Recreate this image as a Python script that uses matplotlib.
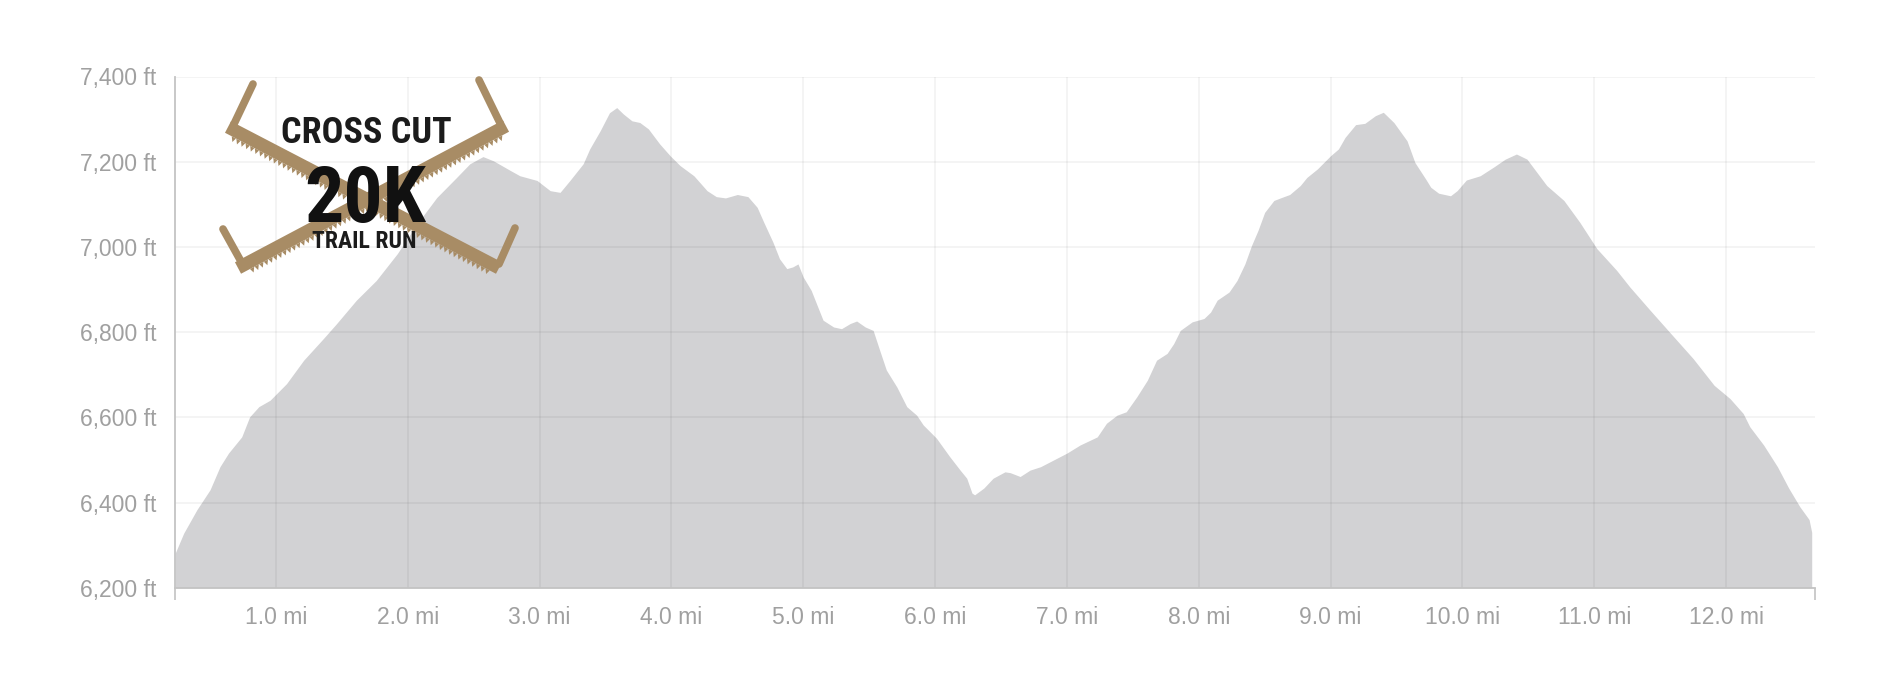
import matplotlib
matplotlib.use('Agg')
import matplotlib.pyplot as plt
import numpy as np
from matplotlib.patches import Polygon
from matplotlib.lines import Line2D

# Elevation profile (distance in miles, elevation in feet)
miles = [0.234, 0.30, 0.40, 0.50, 0.575, 0.64, 0.74, 0.80, 0.87, 0.955,
         1.08, 1.21, 1.36, 1.46, 1.61, 1.76, 1.92, 2.07, 2.22, 2.37,
         2.47, 2.57, 2.65, 2.78, 2.85, 2.98, 3.08, 3.155, 3.23, 3.33,
         3.38, 3.46, 3.53, 3.585, 3.635, 3.70, 3.76, 3.825, 3.91, 3.99,
         4.065, 4.17, 4.27, 4.34, 4.41, 4.50, 4.58, 4.65, 4.70, 4.77,
         4.82, 4.875, 4.92, 4.96, 5.00, 5.06, 5.11, 5.15, 5.23, 5.29,
         5.355, 5.405, 5.47, 5.53, 5.58, 5.63, 5.71, 5.785, 5.86, 5.91,
         6.01, 6.11, 6.19, 6.24, 6.28, 6.30, 6.37, 6.44, 6.53, 6.57,
         6.645, 6.72, 6.80, 6.90, 7.00, 7.10, 7.23, 7.30, 7.38, 7.45,
         7.53, 7.61, 7.68, 7.76, 7.81, 7.86, 7.95, 8.04, 8.09, 8.14,
         8.23, 8.29, 8.35, 8.40, 8.45, 8.50, 8.57, 8.62, 8.69, 8.77,
         8.82, 8.90, 9.00, 9.06, 9.11, 9.19, 9.26, 9.34, 9.40, 9.48,
         9.58, 9.64, 9.72, 9.76, 9.82, 9.91, 9.96, 10.03, 10.135, 10.24,
         10.325, 10.41, 10.49, 10.64, 10.77, 10.89, 11.02, 11.17, 11.27, 11.425,
         11.58, 11.75, 11.91, 12.03, 12.13, 12.18, 12.285, 12.39, 12.475, 12.56,
         12.63, 12.65]
elevation = [6280, 6328, 6383, 6430, 6484, 6516, 6554, 6601, 6625, 6640,
             6679, 6734, 6785, 6820, 6875, 6921, 6984, 7054, 7116, 7163,
             7195, 7212, 7202, 7179, 7167, 7156, 7132, 7128, 7156, 7195,
             7230, 7273, 7315, 7327, 7312, 7296, 7292, 7277, 7242, 7214,
             7191, 7167, 7132, 7118, 7115, 7123, 7118, 7093, 7058, 7011,
             6972, 6949, 6953, 6960, 6929, 6898, 6859, 6828, 6812, 6808,
             6820, 6826, 6812, 6804, 6757, 6711, 6671, 6625, 6605, 6582,
             6551, 6508, 6476, 6457, 6422, 6418, 6434, 6457, 6472, 6470,
             6461, 6476, 6484, 6500, 6516, 6535, 6554, 6586, 6605, 6613,
             6648, 6687, 6734, 6750, 6773, 6804, 6824, 6832, 6847, 6875,
             6894, 6921, 6960, 7003, 7039, 7081, 7109, 7115, 7123, 7144,
             7163, 7183, 7214, 7230, 7257, 7287, 7290, 7308, 7316, 7292,
             7249, 7198, 7160, 7140, 7126, 7120, 7132, 7157, 7167, 7188,
             7206, 7218, 7206, 7144, 7109, 7058, 6996, 6945, 6906, 6851,
             6797, 6738, 6675, 6644, 6609, 6578, 6535, 6484, 6434, 6390,
             6360, 6330]

x_ticks = [1, 2, 3, 4, 5, 6, 7, 8, 9, 10, 11, 12]
y_ticks = [6200, 6400, 6600, 6800, 7000, 7200, 7400]
x_range = (0.234, 12.675)

W, H = 1888, 676
fig = plt.figure(figsize=(W / 100, H / 100), dpi=100)
ax = fig.add_axes([175 / W, 1 - 587.7 / H, 1640 / W, 511.2 / H])

ax.fill_between(miles, elevation, y_ticks[0], color='#d2d2d4', linewidth=0, zorder=1)
ax.set_xlim(*x_range)
ax.set_ylim(y_ticks[0], y_ticks[-1])

ax.set_xticks(x_ticks)
ax.set_xticklabels(['{:.1f} mi'.format(m) for m in x_ticks])
ax.set_yticks(y_ticks)
ax.set_yticklabels(['{:,} ft'.format(v) for v in y_ticks])
# only the ends of the axes get a tick mark
ax.set_xticks(list(x_range), minor=True)
ax.set_yticks([y_ticks[0], y_ticks[-1]], minor=True)

for lab in ax.get_xticklabels() + ax.get_yticklabels():
    lab.set_fontfamily(['Liberation Sans', 'DejaVu Sans'])
    lab.set_fontsize(16.5)

ax.tick_params(which='major', length=0, labelcolor='#a0a0a0')
ax.tick_params(axis='y', which='major', pad=13.5)
ax.tick_params(axis='x', which='major', pad=13)
ax.tick_params(which='minor', length=8.5, width=1.1, color='#bdbdbd')

ax.grid(True, color='black', alpha=0.05, linewidth=1.2)
for side in ['top', 'right']:
    ax.spines[side].set_visible(False)
for side in ['left', 'bottom']:
    ax.spines[side].set_color('#c4c4c4')
    ax.spines[side].set_linewidth(1.3)


# --- Cross Cut logo, drawn in figure pixels (origin top-left) ---
def P(x, y):
    return (x / W, 1 - y / H)


tan = '#a88c65'


def draw_saw(start, end, h_start, h_end):
    p0 = np.array(start, float)
    p1 = np.array(end, float)
    d = (p1 - p0) / np.linalg.norm(p1 - p0)
    n = np.array([-d[1], d[0]])
    if n[1] < 0:
        n = -n  # normal pointing down in image coords
    half = 6.5
    band = [p0 - n * half, p1 - n * half, p1 + n * half, p0 + n * half]
    fig.add_artist(Polygon([P(*q) for q in band], closed=True, transform=fig.transFigure,
                           facecolor=tan, edgecolor='none', zorder=5))
    # teeth along the lower edge
    length = np.linalg.norm(p1 - p0)
    for s in np.arange(10, length - 8, 5.2):
        b = p0 + d * s + n * half
        tooth = [b - d * 2.4, b + d * 2.4, b + d * 0.8 + n * 4.8]
        fig.add_artist(Polygon([P(*q) for q in tooth], closed=True, transform=fig.transFigure,
                               facecolor=tan, edgecolor='none', zorder=5))
    # handles
    for (a, b) in [h_start, h_end]:
        xs, ys = zip(P(*a), P(*b))
        fig.add_artist(Line2D(xs, ys, transform=fig.transFigure, color=tan, linewidth=5.5,
                              solid_capstyle='round', zorder=5))


draw_saw((228, 127), (499, 268), ((234, 124), (253, 84)), ((499, 264), (515, 228)))
draw_saw((506, 126), (238, 268), ((500, 123), (479, 80)), ((243, 265), (223, 229)))

logo_family = ['Roboto Condensed', 'DejaVu Sans']
fig.text(*P(366, 142.7), 'CROSS CUT', ha='center', va='baseline', fontsize=26,
         fontweight='bold', fontstretch='condensed', family=logo_family,
         color='#1b1b1b', zorder=6)
fig.text(*P(365, 221.7), '20K', ha='center', va='baseline', fontsize=56,
         fontweight='bold', fontstretch='condensed', family=logo_family,
         color='#111111', zorder=6)
fig.text(*P(364, 247.5), 'TRAIL RUN', ha='center', va='baseline', fontsize=17,
         fontweight='bold', fontstretch='condensed', family=logo_family,
         color='#1b1b1b', zorder=6)

fig.savefig('out.png', dpi=100, facecolor='white')
